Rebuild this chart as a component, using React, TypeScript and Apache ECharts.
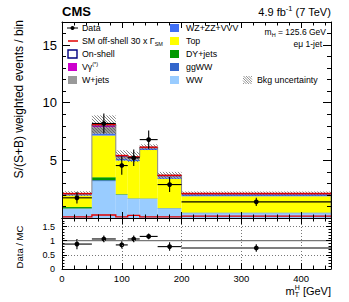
import React, { useEffect, useRef } from 'react';
import * as echarts from 'echarts';

// ---------- data ----------
const binEdges = [0, 50, 90, 110, 130, 160, 200, 450];
const ww = [0.8, 3.2, 2.0, 1.66, 1.65, 0.82, 0.42];
const ggww = [0.03, 0.08, 0.03, 0.03, 0.03, 0.03, 0.04];
const dyjets = [0.12, 0.26, 0.04, 0.02, 0.02, 0.01, 0.01];
const topq = [1.0, 3.61, 2.92, 3.22, 4.2, 2.54, 1.42];
const wzzz = [0.06, 0.18, 0.14, 0.13, 0.1, 0.12, 0.14];
const wjets = [0.06, 0.55, 0.17, 0.14, 0.06, 0.1, 0.04];
const vgamma = [0.02, 0.12, 0.05, 0.04, 0.03, 0.04, 0.02];
const onshell = [0.03, 0.1, 0.07, 0.06, 0.05, 0.04, 0.03];
const bkgUnc = [0.2, 0.8, 0.45, 0.45, 0.25, 0.3, 0.18];
const offshell = [0.1, 0.26, 0.1, 0.22, 0.1, 0.1, 0.17];
const dataX = [25, 70, 100, 120, 145, 180, 325];
const dataY = [1.75, 8.2, 4.55, 5.22, 6.8, 2.9, 1.4];
const dataErr = [0.5, 0.87, 0.8, 0.72, 0.8, 0.65, 0.35];
const ratioY = [0.88, 1.06, 0.85, 1.06, 1.15, 0.79, 0.74];
const ratioErr = [0.18, 0.12, 0.13, 0.12, 0.1, 0.15, 0.13];
const xTickLabels = [0, 100, 200, 300, 400];
const mainYTickLabels = [5, 10, 15];
const ratioYTickLabels = [0, 0.5, 1, 1.5];

const FONT = '"Liberation Sans", Arial, Helvetica, sans-serif';
const C_WW = '#99ccff';
const C_GGWW = '#3366cc';
const C_DY = '#009900';
const C_TOP = '#ffff00';
const C_WZ = '#3f6ff5';
const C_WJ = '#999999';
const C_VG = '#cc00cc';
const C_ON = '#000080';
const C_RED = '#e00000';

const layers = [ww, ggww, dyjets, topq, wzzz, wjets, vgamma, onshell];
const layerColors = [C_WW, C_GGWW, C_DY, C_TOP, C_WZ, C_WJ, C_VG, 'none'];

function hatchLines(x0: number, y0: number, x1: number, y1: number, spacing: number, style: any) {
  const out: any[] = [];
  const cStart = Math.ceil((y0 - x1) / spacing) * spacing;
  for (let c = cStart; c <= y1 - x0; c += spacing) {
    const xs = Math.max(x0, y0 - c);
    const xe = Math.min(x1, y1 - c);
    if (xe > xs) out.push({ type: 'line', shape: { x1: xs, y1: xs + c, x2: xe, y2: xe + c }, style });
  }
  return out;
}

export default function App() {
  const ref = useRef<HTMLDivElement>(null);
  useEffect(() => {
    const el = ref.current!;
    const chart = echarts.init(el, null, { renderer: 'svg' });
    const cv = document.createElement('canvas').getContext('2d')!;
    const tw = (t: string, s: number, b?: boolean) => {
      cv.font = `${b ? 'bold ' : ''}${s}px ${FONT}`;
      return cv.measureText(t).width;
    };
    type P = { t: string; s: number; dy?: number; b?: boolean; stack?: boolean };
    const richText = (pieces: P[], x: number, y: number, align: 'left' | 'right' | 'center') => {
      let cursor = 0;
      let lastStart = 0;
      const placed: any[] = [];
      for (const p of pieces) {
        const w = tw(p.t, p.s, p.b);
        let px: number;
        if (p.stack) {
          px = lastStart;
          cursor = Math.max(cursor, px + w);
        } else {
          px = cursor;
          lastStart = px;
          cursor = px + w;
        }
        placed.push({ ...p, px });
      }
      const off = align === 'left' ? 0 : align === 'right' ? -cursor : -cursor / 2;
      return placed.map((p) => ({
        type: 'text',
        x: x + off + p.px,
        y: y + (p.dy || 0),
        z: 100,
        style: {
          text: p.t,
          fontSize: p.s,
          fontFamily: FONT,
          fontWeight: p.b ? 'bold' : 'normal',
          fill: '#000',
          align: 'left',
          textAlign: 'left',
          verticalAlign: 'middle',
          textVerticalAlign: 'middle',
        },
      }));
    };

    // stack rows
    const stackRows: number[][] = [];
    const totals: number[] = [];
    for (let i = 0; i < ww.length; i++) {
      let base = 0;
      layers.forEach((arr, l) => {
        stackRows.push([binEdges[i], binEdges[i + 1], base, base + arr[i], l]);
        base += arr[i];
      });
      totals.push(base);
    }
    const hatchRows = totals.map((t, i) => [binEdges[i], binEdges[i + 1], t - bkgUnc[i], t + bkgUnc[i]]);
    const dataRows = dataX.map((x, i) => [x, dataY[i], dataErr[i], binEdges[i], binEdges[i + 1]]);
    const ratioRows = dataX.map((x, i) => [x, ratioY[i], ratioErr[i], binEdges[i], binEdges[i + 1]]);

    const xAx = (grid: number, position: string, interval: number, tickLen: number, opts: any = {}) => ({
      type: 'value',
      gridIndex: grid,
      position,
      min: 0,
      max: 450,
      interval,
      z: 10,
      axisLine: { show: !!opts.line, onZero: false, lineStyle: { color: '#000', width: 1 } },
      axisTick: { show: true, inside: true, length: tickLen, lineStyle: { color: '#000', width: 1 } },
      axisLabel: opts.labels
        ? {
            show: true,
            margin: 4,
            fontSize: 9.5,
            fontFamily: FONT,
            color: '#000',
            formatter: (v: number) => (xTickLabels.includes(v) ? String(v) : ''),
          }
        : { show: false },
      splitLine: opts.split
        ? { show: true, lineStyle: { type: [1, 2], color: '#777', width: 1 } }
        : { show: false },
    });
    const yAx = (grid: number, position: string, min: number, max: number, interval: number, tickLen: number, opts: any = {}) => ({
      type: 'value',
      gridIndex: grid,
      position,
      min,
      max,
      interval,
      z: 10,
      axisLine: { show: !!opts.line, onZero: false, lineStyle: { color: '#000', width: 1 } },
      axisTick: { show: true, inside: true, length: tickLen, lineStyle: { color: '#000', width: 1 } },
      axisLabel: opts.labels
        ? {
            show: true,
            margin: opts.margin,
            fontSize: opts.fontSize,
            fontFamily: FONT,
            color: '#000',
            formatter: (v: number) => (opts.labels.some((l: number) => Math.abs(l - v) < 1e-6) ? String(v) : ''),
          }
        : { show: false },
      splitLine: opts.split
        ? { show: true, lineStyle: { type: [1, 2], color: '#777', width: 1 } }
        : { show: false },
    });

    const xAxis = [
      xAx(0, 'bottom', 100, 6, { line: true }),
      xAx(0, 'bottom', 20, 3.5),
      xAx(0, 'top', 100, 6, { line: true }),
      xAx(0, 'top', 20, 3.5),
      xAx(1, 'bottom', 100, 6, { line: true, labels: true, split: true }),
      xAx(1, 'bottom', 20, 3.5),
      xAx(1, 'top', 100, 6, { line: true }),
      xAx(1, 'top', 20, 3.5),
    ];
    const yAxis = [
      yAx(0, 'left', 0, 17, 5, 8, { line: true, labels: mainYTickLabels, margin: 5, fontSize: 13 }),
      yAx(0, 'left', 0, 17, 1, 4),
      yAx(0, 'right', 0, 17, 5, 8, { line: true }),
      yAx(0, 'right', 0, 17, 1, 4),
      yAx(1, 'left', 0, 1.8, 0.5, 5, { line: true, labels: ratioYTickLabels, margin: 7, fontSize: 9, split: true }),
      yAx(1, 'left', 0, 1.8, 0.1, 2.5),
      yAx(1, 'right', 0, 1.8, 0.5, 5, { line: true }),
      yAx(1, 'right', 0, 1.8, 0.1, 2.5),
    ];

    const hatchStyle = { stroke: '#555', lineWidth: 0.7 };

    const errRender = (params: any, api: any) => {
      const x = api.value(0), y = api.value(1), e = api.value(2), lo = api.value(3), hi = api.value(4);
      const pL = api.coord([lo, y]);
      const pR = api.coord([hi, y]);
      const pT = api.coord([x, y + e]);
      const pB = api.coord([x, Math.max(0, y - e)]);
      const pC = api.coord([x, y]);
      const st = { stroke: '#000', lineWidth: 1.1 };
      return {
        type: 'group',
        children: [
          { type: 'line', shape: { x1: pL[0], y1: pL[1], x2: pR[0], y2: pR[1] }, style: st },
          { type: 'line', shape: { x1: pT[0], y1: pT[1], x2: pB[0], y2: pB[1] }, style: st },
          { type: 'circle', shape: { cx: pC[0], cy: pC[1], r: 2.4 }, style: { fill: '#000' } },
        ],
      };
    };

    const series: any[] = [
      {
        type: 'custom',
        name: 'stack',
        xAxisIndex: 0,
        yAxisIndex: 0,
        clip: true,
        encode: { x: [0, 1], y: [2, 3] },
        data: stackRows,
        renderItem: (params: any, api: any) => {
          const p0 = api.coord([api.value(0), api.value(3)]);
          const p1 = api.coord([api.value(1), api.value(2)]);
          const l = api.value(4);
          return {
            type: 'rect',
            shape: { x: p0[0], y: p0[1], width: p1[0] - p0[0], height: p1[1] - p0[1] },
            style: { fill: layerColors[l], stroke: l === 7 ? C_ON : 'none', lineWidth: 0.6 },
          };
        },
      },
      {
        type: 'custom',
        name: 'outline',
        xAxisIndex: 0,
        yAxisIndex: 0,
        clip: true,
        data: [[0, 0]],
        renderItem: (params: any, api: any) => {
          const pts: number[][] = [api.coord([binEdges[0], 0])];
          totals.forEach((t, i) => {
            pts.push(api.coord([binEdges[i], t]));
            pts.push(api.coord([binEdges[i + 1], t]));
          });
          pts.push(api.coord([binEdges[binEdges.length - 1], 0]));
          return { type: 'polyline', shape: { points: pts }, style: { stroke: '#888', lineWidth: 1, fill: 'none' } };
        },
      },
      {
        type: 'custom',
        name: 'hatch',
        xAxisIndex: 0,
        yAxisIndex: 0,
        clip: true,
        encode: { x: [0, 1], y: [2, 3] },
        data: hatchRows,
        renderItem: (params: any, api: any) => {
          const p0 = api.coord([api.value(0), api.value(3)]);
          const p1 = api.coord([api.value(1), api.value(2)]);
          return { type: 'group', children: hatchLines(p0[0], p0[1], p1[0], p1[1], 3, hatchStyle) };
        },
      },
      {
        type: 'custom',
        name: 'redtops',
        xAxisIndex: 0,
        yAxisIndex: 0,
        clip: true,
        data: [[0, 0]],
        renderItem: (params: any, api: any) => ({
          type: 'group',
          children: totals.map((t, i) => {
            const a = api.coord([binEdges[i], t]);
            const b = api.coord([binEdges[i + 1], t]);
            return { type: 'line', shape: { x1: a[0], y1: a[1], x2: b[0], y2: b[1] }, style: { stroke: C_RED, lineWidth: 1.4 } };
          }),
        }),
      },
      {
        type: 'custom',
        name: 'offshell',
        xAxisIndex: 0,
        yAxisIndex: 0,
        clip: true,
        data: [[0, 0]],
        renderItem: (params: any, api: any) => {
          const pts: number[][] = [];
          offshell.forEach((v, i) => {
            pts.push(api.coord([binEdges[i], v]));
            pts.push(api.coord([binEdges[i + 1], v]));
          });
          return { type: 'polyline', shape: { points: pts }, style: { stroke: C_RED, lineWidth: 1.3, fill: 'none' } };
        },
      },
      {
        type: 'custom',
        name: 'data',
        xAxisIndex: 0,
        yAxisIndex: 0,
        clip: true,
        z: 5,
        data: dataRows,
        renderItem: errRender,
      },
      {
        type: 'custom',
        name: 'ratioOne',
        xAxisIndex: 4,
        yAxisIndex: 4,
        clip: true,
        data: [[0, 1]],
        renderItem: (params: any, api: any) => {
          const a = api.coord([0, 1]);
          const b = api.coord([450, 1]);
          return { type: 'line', shape: { x1: a[0], y1: a[1], x2: b[0], y2: b[1] }, style: { stroke: '#777', lineWidth: 1.2 } };
        },
      },
      {
        type: 'custom',
        name: 'ratio',
        xAxisIndex: 4,
        yAxisIndex: 4,
        clip: true,
        z: 5,
        data: ratioRows,
        renderItem: errRender,
      },
    ];

    const legendBox = (x: number, y: number, fill: string, stroke?: string) => ({
      type: 'rect',
      z: 100,
      shape: { x, y: y - 4, width: 9, height: 8 },
      style: { fill, stroke: stroke || 'none', lineWidth: stroke ? 1.4 : 0 },
    });
    const LS = 8.8;
    const rows = [28, 41, 54, 67, 80];
    const graphic: any[] = [
      ...richText([{ t: 'CMS', s: 13, b: true }], 62, 11, 'left'),
      ...richText(
        [
          { t: '4.9 fb', s: 11 },
          { t: '-1', s: 7.5, dy: -4 },
          { t: ' (7 TeV)', s: 11 },
        ],
        331,
        12,
        'right'
      ),
      // left legend column
      { type: 'line', z: 100, shape: { x1: 67, y1: rows[0], x2: 78, y2: rows[0] }, style: { stroke: '#000', lineWidth: 1 } },
      { type: 'circle', z: 100, shape: { cx: 72.5, cy: rows[0], r: 2 }, style: { fill: '#000' } },
      ...richText([{ t: 'Data', s: LS }], 82, rows[0], 'left'),
      { type: 'line', z: 100, shape: { x1: 68, y1: rows[1], x2: 78, y2: rows[1] }, style: { stroke: C_RED, lineWidth: 1.5 } },
      ...richText(
        [
          { t: 'SM off-shell 30 x Γ', s: LS },
          { t: 'SM', s: 5.5, dy: 2.5 },
        ],
        82,
        rows[1],
        'left'
      ),
      legendBox(68, rows[2], '#fff', C_ON),
      ...richText([{ t: 'On-shell', s: LS }], 82, rows[2], 'left'),
      legendBox(68, rows[3], C_VG),
      ...richText(
        [
          { t: 'Vγ', s: LS },
          { t: '(*)', s: 5.5, dy: -3 },
        ],
        82,
        rows[3],
        'left'
      ),
      legendBox(68, rows[4], C_WJ),
      ...richText([{ t: 'W+jets', s: LS }], 82, rows[4], 'left'),
      // right legend column
      legendBox(170, rows[0], C_WZ),
      ...richText([{ t: 'WZ+ZZ+VVV', s: LS }], 186, rows[0], 'left'),
      legendBox(170, rows[1], C_TOP),
      ...richText([{ t: 'Top', s: LS }], 186, rows[1], 'left'),
      legendBox(170, rows[2], C_DY),
      ...richText([{ t: 'DY+jets', s: LS }], 186, rows[2], 'left'),
      legendBox(170, rows[3], C_GGWW),
      ...richText([{ t: 'ggWW', s: LS }], 186, rows[3], 'left'),
      legendBox(170, rows[4], C_WW),
      ...richText([{ t: 'WW', s: LS }], 186, rows[4], 'left'),
      { type: 'group', z: 100, children: hatchLines(243, rows[4] - 4, 252, rows[4] + 4, 2.5, { stroke: '#666', lineWidth: 0.7 }) },
      ...richText([{ t: 'Bkg uncertainty', s: LS }], 257, rows[4], 'left'),
      // annotations
      ...richText(
        [
          { t: 'm', s: 8.5 },
          { t: 'H', s: 5.5, dy: 2.5 },
          { t: ' = 125.6 GeV', s: 8.5 },
        ],
        326,
        32,
        'right'
      ),
      ...richText([{ t: 'eμ 1-jet', s: 8.5 }], 322, 44, 'right'),
      // axis titles
      {
        type: 'text',
        z: 100,
        x: 19,
        y: 20,
        rotation: Math.PI / 2,
        style: {
          text: 'S/(S+B) weighted events / bin',
          fontSize: 12,
          fontFamily: FONT,
          fill: '#000',
          align: 'right',
          textAlign: 'right',
          verticalAlign: 'middle',
          textVerticalAlign: 'middle',
        },
      },
      {
        type: 'text',
        z: 100,
        x: 19,
        y: 247,
        rotation: Math.PI / 2,
        style: {
          text: 'Data / MC',
          fontSize: 9.5,
          fontFamily: FONT,
          fill: '#000',
          align: 'center',
          textAlign: 'center',
          verticalAlign: 'middle',
          textVerticalAlign: 'middle',
        },
      },
      ...richText(
        [
          { t: 'm', s: 11 },
          { t: 'T', s: 7, dy: 3 },
          { t: 'H', s: 7, dy: -4, stack: true },
          { t: ' [GeV]', s: 11 },
        ],
        331,
        291,
        'right'
      ),
    ];

    chart.setOption({
      animation: false,
      backgroundColor: '#fff',
      grid: [
        { left: 62, top: 22, width: 269, height: 196 },
        { left: 62, top: 218, width: 269, height: 51 },
      ],
      xAxis,
      yAxis,
      series,
      graphic,
    });
    return () => chart.dispose();
  }, []);
  return <div ref={ref} style={{ position: 'fixed', left: 0, top: 0, width: 349, height: 302, background: '#fff' }} />;
}
